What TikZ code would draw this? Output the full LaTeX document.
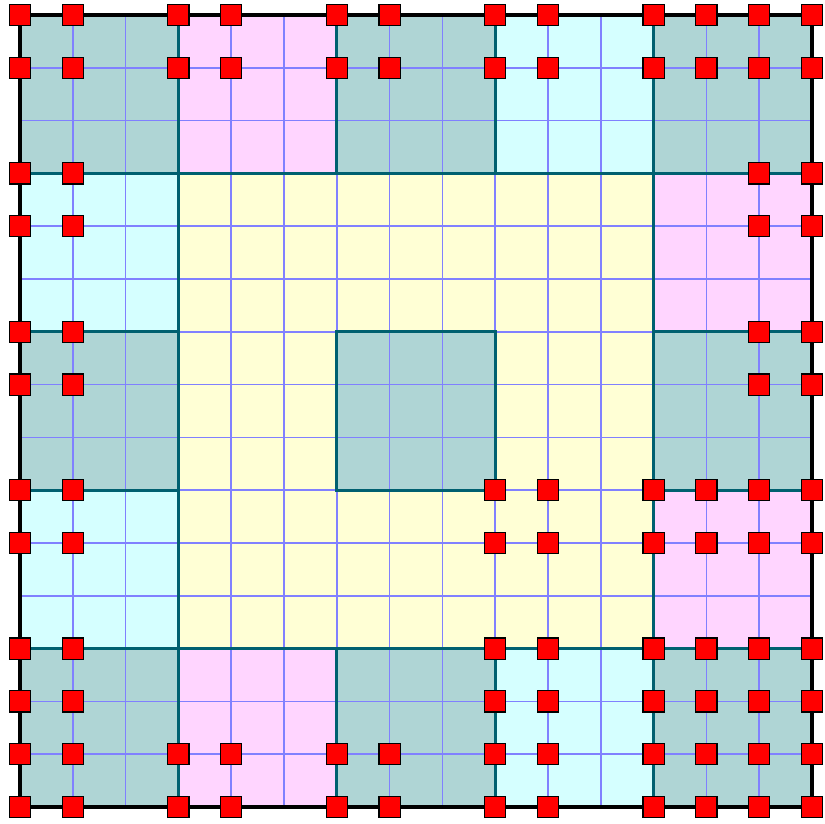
\documentclass[tikz,border=0pt]{standalone}
\definecolor{tealfill}{RGB}{175,213,213}
\definecolor{pinkfill}{RGB}{255,213,255}
\definecolor{cyanfill}{RGB}{213,255,255}
\definecolor{yellowfill}{RGB}{255,255,213}
\definecolor{gridblue}{RGB}{128,128,255}
\definecolor{blockline}{RGB}{0,96,112}
\begin{document}
\begin{tikzpicture}[x=1cm,y=-1cm,
  gridline/.style={gridblue, line width=0.8pt},
  blockedge/.style={blockline, line width=1.5pt},
  outeredge/.style={black, line width=1.8pt},
  redsq/.style={draw=black, fill=red, line width=0.6pt, minimum size=0.40cm, inner sep=0pt, rectangle}]
\useasboundingbox (-0.3788,-0.2841) rectangle (15.2462,15.3030);
\fill[yellowfill] (0,0) rectangle (15,15);
\foreach \c/\r/\col in {0/0/tealfill,1/0/pinkfill,2/0/tealfill,3/0/cyanfill,4/0/tealfill,
  0/1/cyanfill,4/1/pinkfill,
  0/2/tealfill,2/2/tealfill,4/2/tealfill,
  0/3/cyanfill,4/3/pinkfill,
  0/4/tealfill,1/4/pinkfill,2/4/tealfill,3/4/cyanfill,4/4/tealfill}
  {\fill[\col] ({3*\c},{3*\r}) rectangle ++(3,3);}
\draw[gridline] (0,0) grid (15,15);
\foreach \c/\r in {0/0,1/0,2/0,3/0,4/0,0/1,4/1,0/2,2/2,4/2,0/3,4/3,0/4,1/4,2/4,3/4,4/4}
  {\draw[blockedge] ({3*\c},{3*\r}) rectangle ++(3,3);}
\draw[outeredge] (0,0) rectangle (15,15);
\foreach \j in {0,1,14,15}
  \foreach \i in {0,1,3,4,6,7,9,10,12,13,14,15}
    \node[redsq] (r-\i-\j) at (\i,\j) {};
\foreach \j in {3,4,6,7}
  \foreach \i in {0,1,14,15}
    \node[redsq] (r-\i-\j) at (\i,\j) {};
\foreach \j in {9,10,12,13}
  \foreach \i in {0,1,9,10,12,13,14,15}
    \node[redsq] (r-\i-\j) at (\i,\j) {};
\end{tikzpicture}
\end{document}
